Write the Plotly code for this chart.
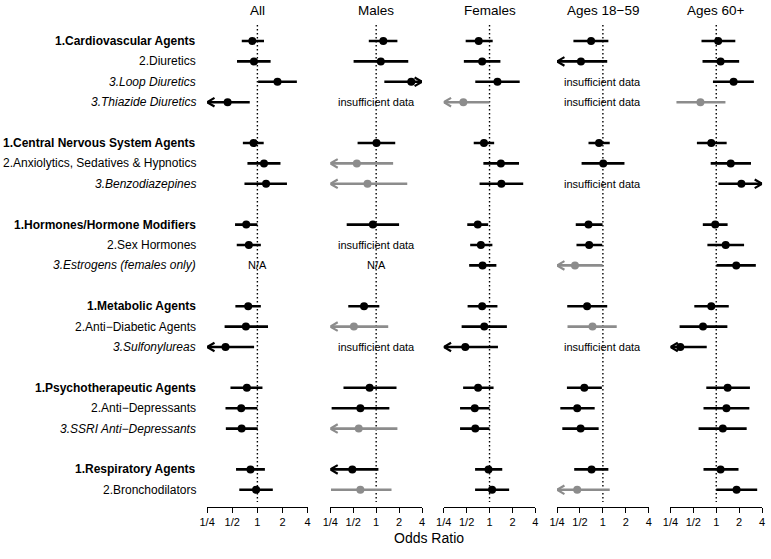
import plotly.graph_objects as go

# ---------------- data ----------------
panel_titles = ["All", "Males", "Females", "Ages 18\u221259", "Ages 60+"]

row_labels = [
    "1.Cardiovascular Agents", "2.Diuretics", "3.Loop Diuretics", "3.Thiazide Diuretics",
    "1.Central Nervous System Agents", "2.Anxiolytics, Sedatives & Hypnotics", "3.Benzodiazepines",
    "1.Hormones/Hormone Modifiers", "2.Sex Hormones", "3.Estrogens (females only)",
    "1.Metabolic Agents", "2.Anti\u2212Diabetic Agents", "3.Sulfonylureas",
    "1.Psychotherapeutic Agents", "2.Anti\u2212Depressants", "3.SSRI Anti\u2212Depressants",
    "1.Respiratory Agents", "2.Bronchodilators",
]
row_slots = [0, 1, 2, 3, 5, 6, 7, 9, 10, 11, 13, 14, 15, 17, 18, 19, 21, 22]

# odds ratio estimates, lower and upper CI (values beyond 1/4..4 are drawn as arrows)
all_est = [0.87, 0.91, 1.74, 0.44, 0.90, 1.20, 1.27, 0.735, 0.79, None, 0.776, 0.728, 0.415, 0.748, 0.64, 0.647, 0.827, 0.965]
all_lo = [0.65, 0.57, 1.02, 0.20, 0.67, 0.76, 0.70, 0.54, 0.566, None, 0.545, 0.405, 0.20, 0.476, 0.415, 0.419, 0.555, 0.607]
all_hi = [1.20, 1.44, 2.97, 0.81, 1.19, 1.89, 2.26, 1.00, 1.10, None, 1.10, 1.34, 0.913, 1.15, 1.00, 1.01, 1.23, 1.53]
all_gray = []
all_note = {9: "N/A"}

male_est = [1.24, 1.15, 2.89, None, 1.01, 0.557, 0.77, 0.905, None, None, 0.693, 0.51, None, 0.82, 0.62, 0.59, 0.486, 0.62]
male_lo = [0.80, 0.505, 1.28, None, 0.57, 0.20, 0.20, 0.41, None, None, 0.43, 0.20, None, 0.372, 0.26, 0.20, 0.20, 0.255]
male_hi = [1.90, 2.64, 5.0, None, 1.78, 1.67, 2.56, 2.00, None, None, 1.10, 1.44, None, 1.85, 1.49, 1.90, 1.07, 1.59]
male_gray = [5, 6, 11, 15, 17]
male_note = {3: "insufficient data", 8: "insufficient data", 9: "N/A", 12: "insufficient data"}

fem_est = [0.721, 0.80, 1.27, 0.453, 0.845, 1.41, 1.43, 0.70, 0.77, 0.81, 0.80, 0.853, 0.48, 0.707, 0.64, 0.65, 0.97, 1.08]
fem_lo = [0.486, 0.46, 0.65, 0.20, 0.62, 0.83, 0.74, 0.51, 0.557, 0.54, 0.515, 0.43, 0.20, 0.45, 0.41, 0.41, 0.646, 0.646]
fem_hi = [1.10, 1.39, 2.49, 1.00, 1.15, 2.44, 2.77, 0.96, 1.09, 1.23, 1.27, 1.69, 1.29, 1.13, 1.00, 1.00, 1.47, 1.81]
fem_gray = [3]
fem_note = {}

young_est = [0.70, 0.515, None, None, 0.89, 1.01, None, 0.647, 0.66, 0.43, 0.62, 0.73, None, 0.57, 0.46, 0.51, 0.71, 0.46]
young_lo = [0.41, 0.20, None, None, 0.647, 0.525, None, 0.44, 0.45, 0.20, 0.34, 0.343, None, 0.337, 0.276, 0.293, 0.42, 0.20]
young_hi = [1.18, 1.14, None, None, 1.23, 1.92, None, 0.99, 0.98, 0.99, 1.14, 1.52, None, 0.97, 0.78, 0.88, 1.18, 1.23]
young_gray = [9, 11, 17]
young_note = {2: "insufficient data", 3: "insufficient data", 6: "insufficient data", 12: "insufficient data"}

old_est = [1.06, 1.14, 1.69, 0.62, 0.86, 1.55, 2.14, 0.97, 1.33, 1.83, 0.86, 0.67, 0.337, 1.41, 1.36, 1.22, 1.14, 1.85]
old_lo = [0.64, 0.66, 0.905, 0.30, 0.557, 0.845, 1.07, 0.666, 0.765, 1.01, 0.515, 0.33, 0.20, 0.74, 0.68, 0.586, 0.68, 1.00]
old_hi = [1.78, 2.00, 3.12, 1.32, 1.37, 2.86, 5.0, 1.41, 2.32, 3.31, 1.46, 1.40, 0.75, 2.77, 2.72, 2.51, 1.96, 3.45]
old_gray = [3]
old_note = {}

tick_vals = [0.25, 0.5, 1, 2, 4]
tick_text = ["1/4", "1/2", "1", "2", "4"]

# ---------------- layout constants ----------------
W, H = 771, 559
ROW_TOP, ROW_STEP, AXIS_Y = 41.0, 20.4, 507.0
LO_LIM, HI_LIM = 0.25, 4.0
panel_px = [(202, 304), (327, 420), (442, 535), (557, 650), (672, 765)]
FONT = "Liberation Sans, Arial, Helvetica, sans-serif"
BLACK, GRAY = "#000000", "#8c8c8c"

panels = [
    (all_est, all_lo, all_hi, all_gray, all_note),
    (male_est, male_lo, male_hi, male_gray, male_note),
    (fem_est, fem_lo, fem_hi, fem_gray, fem_note),
    (young_est, young_lo, young_hi, young_gray, young_note),
    (old_est, old_lo, old_hi, old_gray, old_note),
]

fig = go.Figure()
annotations = []
y_top_val = -ROW_TOP / ROW_STEP
y_bot_val = (AXIS_Y - ROW_TOP) / ROW_STEP

for p, (est, lo, hi, gray, note) in enumerate(panels):
    xname = "x" if p == 0 else f"x{p+1}"
    px0, px1 = panel_px[p]
    ppd = (px1 - px0) / 4.0  # pixels per doubling
    f = 2 ** (7.5 / ppd)
    ah = 4.3 / ROW_STEP

    # reference dotted line at OR = 1
    fig.add_trace(go.Scatter(
        x=[1, 1], y=[(25 - ROW_TOP) / ROW_STEP, (502 - ROW_TOP) / ROW_STEP],
        mode="lines", line=dict(color="#000000", width=1.4, dash="1.4px,2.6px"),
        xaxis=xname, yaxis="y", hoverinfo="skip", showlegend=False, cliponaxis=False))

    for color, is_gray in ((BLACK, False), (GRAY, True)):
        lx, ly, mx, my, ax_, ay_ = [], [], [], [], [], []
        for i in range(len(row_labels)):
            if est[i] is None or ((i in gray) != is_gray):
                continue
            s = row_slots[i]
            a = max(lo[i], LO_LIM)
            b = min(hi[i], HI_LIM)
            lx += [a, b, None]
            ly += [s, s, None]
            mx.append(est[i])
            my.append(s)
            if lo[i] < LO_LIM:
                ax_ += [LO_LIM * f, LO_LIM, LO_LIM * f, None]
                ay_ += [s - ah, s, s + ah, None]
            if hi[i] > HI_LIM:
                ax_ += [HI_LIM / f, HI_LIM, HI_LIM / f, None]
                ay_ += [s - ah, s, s + ah, None]
        if not mx:
            continue
        fig.add_trace(go.Scatter(x=lx, y=ly, mode="lines", line=dict(color=color, width=2.6),
                                 xaxis=xname, yaxis="y", hoverinfo="skip", showlegend=False,
                                 cliponaxis=False))
        if ax_:
            fig.add_trace(go.Scatter(x=ax_, y=ay_, mode="lines", line=dict(color=color, width=2.2),
                                     xaxis=xname, yaxis="y", hoverinfo="skip", showlegend=False,
                                     cliponaxis=False))
        fig.add_trace(go.Scatter(x=mx, y=my, mode="markers",
                                 marker=dict(color=color, size=8, line=dict(width=0)),
                                 xaxis=xname, yaxis="y", showlegend=False, cliponaxis=False))

    for i, txt in note.items():
        annotations.append(dict(text=txt, x=0, y=row_slots[i], xref=xname, yref="y",
                                showarrow=False, xanchor="center", yanchor="middle",
                                font=dict(family=FONT, size=11, color="#000000")))

    annotations.append(dict(text=panel_titles[p], x=0, y=1 - 10 / H, xref=xname, yref="paper",
                            showarrow=False, xanchor="center", yanchor="middle",
                            font=dict(family=FONT, size=13.5, color="#000000")))

    axis_def = dict(
        type="log", range=[-0.60206, 0.60206], domain=[px0 / W, px1 / W], anchor="y",
        tickvals=tick_vals, ticktext=tick_text, ticks="outside", ticklen=5, tickwidth=1,
        tickcolor="#000000", showline=True, linecolor="#000000", linewidth=1,
        showgrid=False, zeroline=False, fixedrange=True,
        tickfont=dict(family=FONT, size=11, color="#000000"),
    )
    key = "xaxis" if p == 0 else f"xaxis{p+1}"
    fig.layout[key] = axis_def

# row labels: level 1 bold, level 2 plain, level 3 italic
for lab, s in zip(row_labels, row_slots):
    weight = "bold" if lab.startswith("1.") else "normal"
    style = "italic" if lab.startswith("3.") else "normal"
    annotations.append(dict(text=lab, x=193 / W, y=s, xref="paper", yref="y",
                            showarrow=False, xanchor="right", yanchor="middle", align="right",
                            font=dict(family=FONT, size=12, color="#000000",
                                      weight=weight, style=style)))

annotations.append(dict(text="Odds Ratio", x=427 / W, y=1 - 538 / H, xref="paper", yref="paper",
                        showarrow=False, xanchor="center", yanchor="middle",
                        font=dict(family=FONT, size=14, color="#000000")))

fig.update_layout(
    width=W, height=H, margin=dict(l=0, r=0, t=0, b=0),
    paper_bgcolor="white", plot_bgcolor="white",
    yaxis=dict(range=[y_bot_val, y_top_val], domain=[1 - AXIS_Y / H, 1], visible=False,
               showgrid=False, zeroline=False, fixedrange=True),
    annotations=annotations, showlegend=False,
)

fig.write_html("out.html", config={"displayModeBar": False, "staticPlot": True},
               post_script="document.body.style.margin='0px';")
